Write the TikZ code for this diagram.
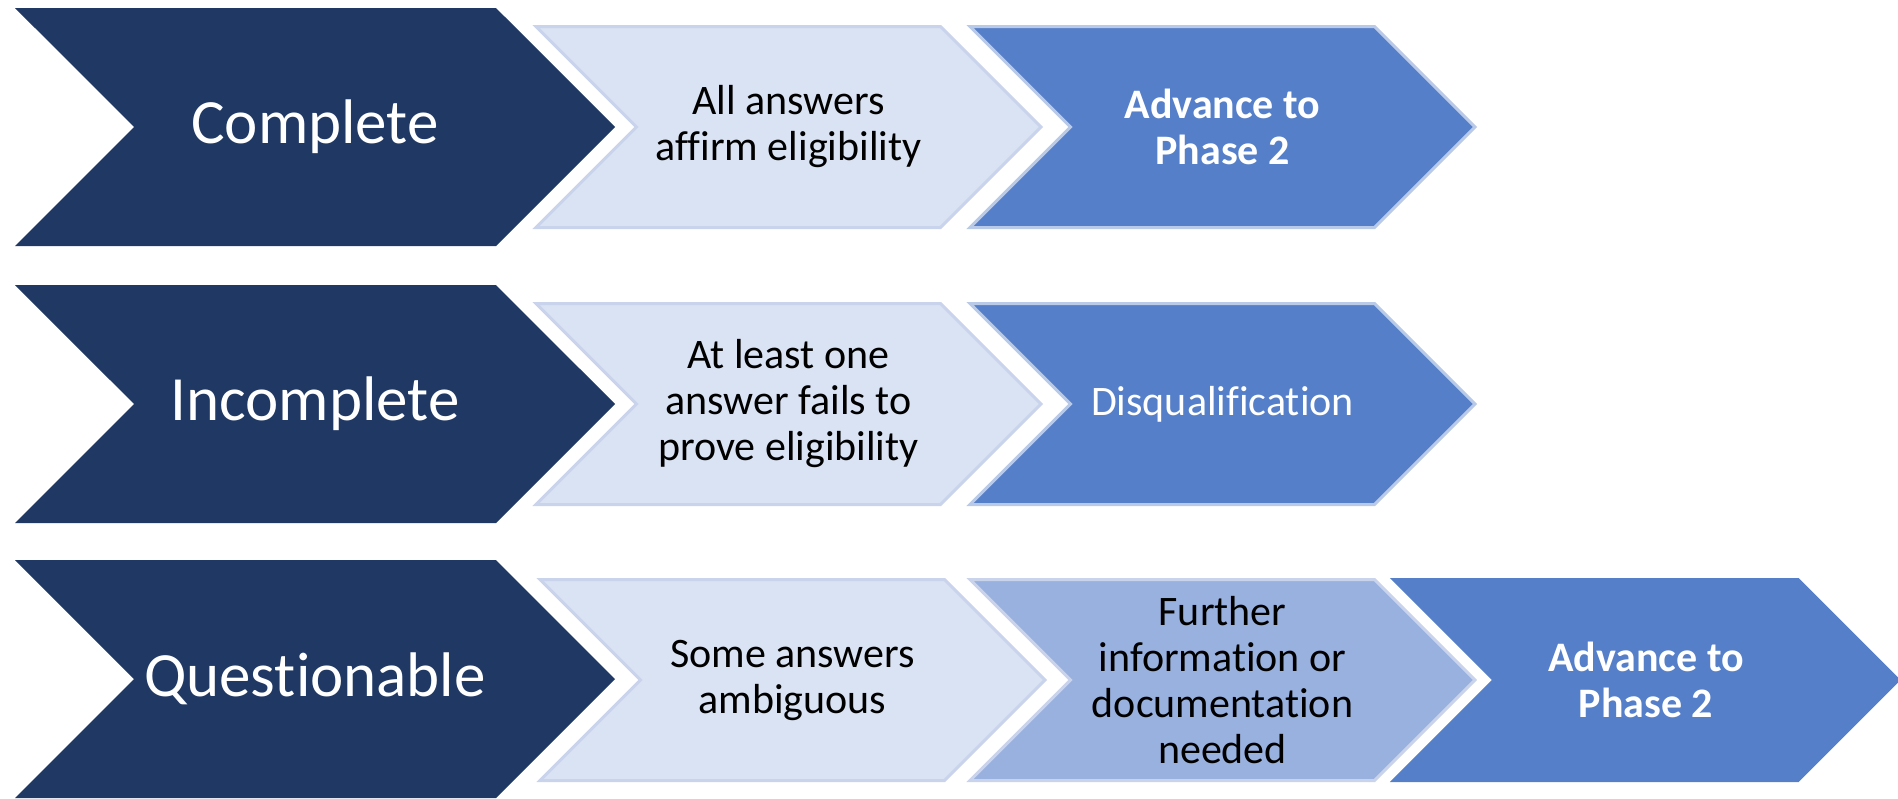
\documentclass[tikz,border=0pt]{standalone}
\usepackage{fontspec}
\setmainfont[Ligatures=CommonOff]{Carlito}
\usetikzlibrary{shapes.symbols}
\definecolor{navy}{HTML}{203864}
\definecolor{paleblue}{HTML}{DAE3F3}
\definecolor{paleedge}{HTML}{C9D3EB}
\definecolor{softblue}{HTML}{99B1DE}
\definecolor{midblue}{HTML}{557FC8}
\definecolor{midedge}{HTML}{B9C9E8}
\tikzset{
    chevron/.style={signal, signal from=west, signal to=east, signal pointer angle=90,
        inner sep=0pt, align=center, font=\fontsize{42}{46}\selectfont},
    status/.style={chevron, fill=navy, text=white, minimum width=600pt, minimum height=238pt,
        font=\fontsize{63}{75}\selectfont},
    check/.style={chevron, fill=paleblue, draw=paleedge, line width=3pt, minimum width=505pt, minimum height=201pt},
    pending/.style={check, fill=softblue},
    result/.style={check, fill=midblue, draw=midedge, text=white, font=\fontsize{42}{46}\selectfont\bfseries},
}
\begin{document}
\begin{tikzpicture}[x=1pt, y=-1pt]
    \useasboundingbox (0,0) rectangle (1898,798);

    % complete
    \node[status] (complete) at (315,127) {Complete};
    \node[check] (affirm) at (788.5,127) {All answers\\affirm eligibility};
    \node[result] (advance1) at (1222.5,127) {Advance to\\Phase 2};

    % incomplete
    \node[status] (incomplete) at (315,404) {Incomplete};
    \node[check] (fails) at (788.5,404) {At least one\\answer fails to\\prove eligibility};
    \node[result] (disq) at (1222.5,404) {\mdseries Disqualification};

    % questionable
    \node[status] (questionable) at (315,679) {Questionable};
    \node[check] (ambiguous) at (792.5,680) {Some answers\\ambiguous};
    \node[pending] (further) at (1222.5,680) {Further\\information or\\documentation\\needed};
    \node[result, draw=midblue] (advance2) at (1646,680) {Advance to\\Phase 2};

\end{tikzpicture}
\end{document}
